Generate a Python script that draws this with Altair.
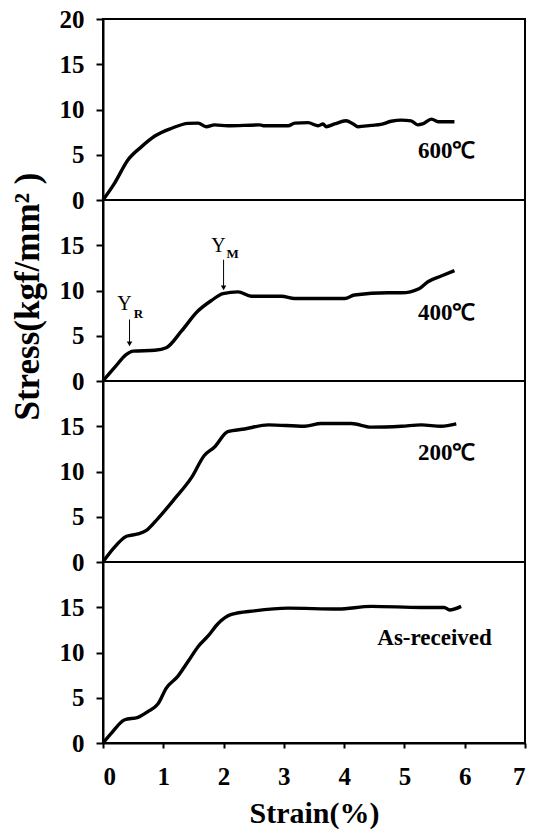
import altair as alt
import pandas as pd

# ---- data ----
x600 = [0, 0.19, 0.41, 0.64, 0.86, 1.13, 1.41, 1.58, 1.71, 1.85, 2.07, 2.6, 2.68, 3.07, 3.18, 3.4, 3.57, 3.65, 3.7, 3.84, 4.03, 4.15, 4.23, 4.45, 4.61, 4.78, 4.95, 5.11, 5.22, 5.3, 5.45, 5.56, 5.69, 5.83]
y600 = [0, 1.84, 4.4, 5.9, 7.07, 7.9, 8.47, 8.5, 8.1, 8.3, 8.2, 8.3, 8.2, 8.2, 8.5, 8.55, 8.2, 8.4, 8.1, 8.4, 8.75, 8.4, 8.1, 8.25, 8.35, 8.7, 8.83, 8.75, 8.3, 8.4, 8.94, 8.65, 8.65, 8.65]

x400 = [0, 0.19, 0.39, 0.5, 0.86, 1.05, 1.3, 1.57, 1.8, 1.99, 2.24, 2.46, 2.96, 3.18, 4.01, 4.17, 4.73, 4.95, 5.25, 5.39, 5.61, 5.83]
y400 = [0, 1.47, 2.94, 3.3, 3.4, 3.68, 5.5, 7.7, 8.9, 9.66, 9.85, 9.37, 9.37, 9.12, 9.12, 9.5, 9.75, 9.75, 10.23, 10.97, 11.6, 12.2]

x200 = [0, 0.17, 0.39, 0.58, 0.72, 0.91, 1.19, 1.47, 1.68, 1.85, 2.07, 2.35, 2.74, 3.34, 3.62, 4.12, 4.45, 4.95, 5.28, 5.61, 5.86]
y200 = [0, 1.47, 2.84, 3.1, 3.5, 4.8, 7.0, 9.35, 11.77, 12.7, 14.4, 14.7, 15.15, 15.0, 15.3, 15.3, 14.9, 15.0, 15.15, 15.0, 15.26]

xas = [0, 0.14, 0.36, 0.58, 0.75, 0.91, 1.05, 1.24, 1.41, 1.58, 1.74, 1.91, 2.13, 2.51, 3.07, 3.9, 4.45, 5.28, 5.66, 5.75, 5.94]
yas = [0, 1.1, 2.57, 2.83, 3.5, 4.3, 6.07, 7.36, 9.0, 10.67, 11.8, 13.2, 14.2, 14.6, 14.9, 14.8, 15.1, 14.98, 14.98, 14.7, 15.1]

panel_labels = ["600℃", "400℃", "200℃", "As-received"]
label_x = [5.7, 5.7, 5.7, 5.5]
label_y = [5.4, 7.5, 12.0, 11.6]

x_ticks = [0, 1, 2, 3, 4, 5, 6, 7]
y_ticks_top = [0, 5, 10, 15, 20]
y_ticks = [0, 5, 10, 15]

# yield-point annotations on the 400℃ panel
arrow_x = [0.44, 2.0]
arrow_top = [6.8, 13.4]
arrow_bot = [4.1, 10.3]
ann_main = ["Y", "Y"]
ann_sub = ["R", "M"]
ann_y = [8.5, 14.9]
ann_sub_y = [7.35, 14.0]

SERIF = "Liberation Serif"
W, H = 422, 181

series = [(x600, y600), (x400, y400), (x200, y200), (xas, yas)]


def make_panel(i):
    xs, ys = series[i]
    df = pd.DataFrame({"strain": xs, "stress": ys})
    last = i == 3
    if last:
        xaxis = alt.Axis(values=x_ticks, format="d", title="Strain(%)", tickSize=5, labelPadding=16,
                         titleFontSize=30, titlePadding=9, labelFontSize=25)
    else:
        xaxis = None
    yvals = y_ticks_top if i == 0 else y_ticks
    if i == 1:
        yaxis = alt.Axis(values=yvals, format="d", title="Stress(kgf/mm² )", titleX=-76, titleY=96,
                         titleAngle=-90, titleAlign="center", titleBaseline="middle",
                         titleFontSize=35)
    else:
        yaxis = alt.Axis(values=yvals, format="d", title=None)
    xenc = alt.X("strain:Q", scale=alt.Scale(domain=[0, 7], nice=False), axis=xaxis)
    yenc = alt.Y("stress:Q", scale=alt.Scale(domain=[0, 20], nice=False), axis=yaxis)
    line = alt.Chart(df).mark_line(color="black", strokeWidth=3.4, interpolate="monotone").encode(
        x=xenc, y=yenc)
    ldf = pd.DataFrame({"strain": [label_x[i]], "stress": [label_y[i]], "t": [panel_labels[i]]})
    txt = alt.Chart(ldf).mark_text(font=SERIF, fontSize=23, fontWeight="bold", color="black",
                                   align="center", baseline="middle").encode(
        x="strain:Q", y="stress:Q", text="t:N")
    layers = [line, txt]
    if i == 1:
        adf = pd.DataFrame({"strain": arrow_x, "top": arrow_top, "bot": arrow_bot,
                            "m": ann_main, "s": ann_sub, "ym": ann_y, "ys": ann_sub_y})
        rule = alt.Chart(adf).mark_rule(color="black", strokeWidth=1).encode(
            x="strain:Q", y="top:Q", y2="bot:Q")
        head = alt.Chart(adf).mark_point(shape="triangle-down", filled=True, color="black",
                                         size=30, opacity=1).encode(x="strain:Q", y="bot:Q")
        ym = alt.Chart(adf).mark_text(font=SERIF, fontSize=20, color="black", dx=-5,
                                      align="center", baseline="middle").encode(
            x="strain:Q", y="ym:Q", text="m:N")
        ys_ = alt.Chart(adf).mark_text(font=SERIF, fontSize=13, fontWeight="bold", color="black",
                                       dx=9, align="center", baseline="middle").encode(
            x="strain:Q", y="ys:Q", text="s:N")
        layers += [rule, head, ym, ys_]
    return alt.layer(*layers).properties(width=W, height=H)


chart = alt.vconcat(*[make_panel(i) for i in range(4)], spacing=0, bounds="flush").properties(
    padding={"left": 8, "top": 6, "right": 0, "bottom": 0}
).configure_view(
    stroke="black", strokeWidth=2
).configure_axis(
    domainColor="black", domainWidth=2, tickColor="black", tickWidth=2, tickSize=7,
    labelFont=SERIF, labelFontWeight="bold", labelFontSize=25, labelColor="black",
    labelPadding=12, titleFont=SERIF, titleFontWeight="bold", titleColor="black", grid=False
)

chart.save("out.html", embed_options={"renderer": "svg", "actions": False})
